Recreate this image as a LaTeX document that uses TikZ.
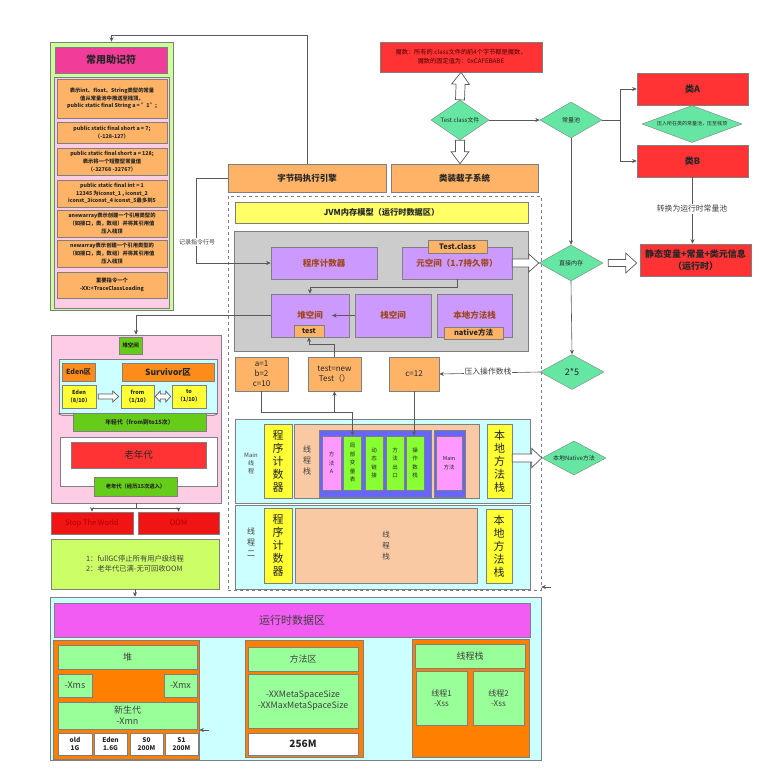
\documentclass[tikz,border=0pt]{standalone}
\usepackage{fontspec}
\setmainfont{Noto Sans CJK SC}
\usetikzlibrary{shapes.geometric,arrows.meta,calc,decorations.pathreplacing}

\definecolor{lineGray}{HTML}{7F7F7F}
\definecolor{txtDark}{HTML}{262626}
\definecolor{txtGray}{HTML}{404040}
\definecolor{orangeBox}{HTML}{FFB366}
\definecolor{orangeDeep}{HTML}{FF8000}
\definecolor{orangeZone}{HTML}{FF8C1A}
\definecolor{redBox}{HTML}{FF3333}
\definecolor{stwRed}{HTML}{F01414}
\definecolor{stwTxt}{HTML}{B00000}
\definecolor{magicTxt}{HTML}{4D0000}
\definecolor{mint}{HTML}{66E6A3}
\definecolor{purpleBox}{HTML}{CC99FF}
\definecolor{purpleTxt}{HTML}{A0461E}
\definecolor{grayFill}{HTML}{CCCCCC}
\definecolor{yellowPale}{HTML}{FFFF66}
\definecolor{yellowBox}{HTML}{FFFF33}
\definecolor{cyanFill}{HTML}{CCFFFF}
\definecolor{tanFill}{HTML}{F9C9A3}
\definecolor{frameBlue}{HTML}{6666FF}
\definecolor{pinkSlot}{HTML}{FF99FF}
\definecolor{greenSlot}{HTML}{88FF33}
\definecolor{greenLbl}{HTML}{66CC1A}
\definecolor{greenPale}{HTML}{99FF99}
\definecolor{magentaBar}{HTML}{F25CF2}
\definecolor{pinkTitle}{HTML}{F23C9A}
\definecolor{pinkPanel}{HTML}{FFCCE6}
\definecolor{greenPanel}{HTML}{CCFF99}
\definecolor{infoGreen}{HTML}{CCFF66}

\newcommand\fsz[2]{\fontsize{#1}{#2}\selectfont}

% hollow block arrow: from, to, shaft half width, head half width, head length
\newcommand\fatarrow[5]{%
  \draw[fat] let \p1=(#1), \p2=(#2),
    \n1={atan2(\y2-\y1,\x2-\x1)}, \n2={veclen(\x2-\x1,\y2-\y1)-#5} in
    ($(\p1)+(\n1+90:#3pt)$) -- ($(\p1)+(\n1:\n2)+(\n1+90:#3pt)$)
    -- ($(\p1)+(\n1:\n2)+(\n1+90:#4pt)$) -- (\p2)
    -- ($(\p1)+(\n1:\n2)+(\n1-90:#4pt)$) -- ($(\p1)+(\n1:\n2)+(\n1-90:#3pt)$)
    -- ($(\p1)+(\n1-90:#3pt)$) -- cycle;}
\newcommand\fatdarrow[5]{%
  \draw[fat] let \p1=(#1), \p2=(#2),
    \n1={atan2(\y2-\y1,\x2-\x1)}, \n2={veclen(\x2-\x1,\y2-\y1)-#5} in
    (\p1) -- ($(\p1)+(\n1:#5pt)+(\n1+90:#4pt)$) -- ($(\p1)+(\n1:#5pt)+(\n1+90:#3pt)$)
    -- ($(\p1)+(\n1:\n2)+(\n1+90:#3pt)$) -- ($(\p1)+(\n1:\n2)+(\n1+90:#4pt)$) -- (\p2)
    -- ($(\p1)+(\n1:\n2)+(\n1-90:#4pt)$) -- ($(\p1)+(\n1:\n2)+(\n1-90:#3pt)$)
    -- ($(\p1)+(\n1:#5pt)+(\n1-90:#3pt)$) -- ($(\p1)+(\n1:#5pt)+(\n1-90:#4pt)$) -- cycle;}

\begin{document}
\begin{tikzpicture}[
  x=1pt,
  y=-1pt,
  box/.style={draw=lineGray, line width=0.6pt, inner sep=0pt, align=center, text=txtDark},
  memo/.style={box, fill=orangeBox, minimum width=110, font=\fsz{5.3}{7.6}\bfseries},
  purp/.style={box, fill=purpleBox, text=purpleTxt, font=\fsz{8.5}{10}\bfseries},
  tag/.style={box, fill=orangeBox, font=\fsz{7.5}{9}\bfseries},
  slot/.style={box, fill=greenSlot, minimum width=18, minimum height=54, font=\fsz{5.5}{8.5}},
  vert/.style={box, fill=yellowBox, font=\fsz{11}{13}},
  gbox/.style={box, fill=greenPale, text=txtGray},
  conn/.style={draw=lineGray!70!black, line width=0.6pt},
  arr/.style={conn, -{Stealth[length=4.5pt,width=4pt]}},
  dia/.style={diamond, draw=lineGray, fill=mint, inner sep=0pt, align=center, text=txtDark},
  fat/.style={draw=lineGray!70!black, fill=white, line width=0.7pt},
  lbl/.style={fill=white, inner sep=1pt, text=txtGray}
]
\useasboundingbox (0,0) rectangle (772,774);

% mnemonic column
\node[box, fill=greenPanel, minimum width=123, minimum height=268] (mnem) at (111.5,176) {};
\node[box, fill=pinkTitle, minimum width=112, minimum height=26, font=\fsz{10}{12}\bfseries] (mnemTitle) at (111,60) {常用助记符};
\node[box, fill=pinkPanel, minimum width=115, minimum height=231] (mnemList) at (112,192.5) {};
\node[memo, minimum height=39] (m1) at (112,98.5) {表示int、float、String类型的常量\\值从常量池中推送至栈顶。\\public static final String a = "1";};
\node[memo, minimum height=21] (m2) at (112,132.5) {public static final short a = 7;\\（-128-127）};
\node[memo, minimum height=27] (m3) at (112,161.5) {public static final short a = 128;\\表示将一个短整型常量值\\（-32768 -32767）};
\node[memo, minimum height=27] (m4) at (112,193.5) {public static final int = 1\\12345 为iconst\_1 , iconst\_2\\iconst\_3iconst\_4 iconst\_5最多到5};
\node[memo, minimum height=27] (m5) at (112,223.5) {anewarray表示创建一个引用类型的\\（如接口，类，数组）并将其引用值\\压入栈顶};
\node[memo, minimum height=27] (m6) at (112,253.5) {newarray表示创建一个引用类型的\\（如接口，类，数组）并将其引用值\\压入栈顶};
\node[memo, minimum height=26] (m7) at (112,285) {重要指令一个\\-XX:+TraceClassLoading};

% class file and loader
\node[box, fill=redBox, text=magicTxt, minimum width=162, minimum height=30, font=\fsz{6.2}{9}] (magic) at (461,57) {魔数：所有的.class文件的前4个字节都是魔数，\\魔数的固定值为：0xCAFEBABE};
\node[dia, minimum width=58, minimum height=40, aspect=1.45, font=\fsz{6}{7}] (tc) at (460,120) {Test.class文件};
\node[box, fill=orangeBox, minimum width=158, minimum height=28, font=\fsz{8.5}{10}\bfseries] (engine) at (307,178) {字节码执行引擎};
\node[box, fill=orangeBox, minimum width=147, minimum height=28, font=\fsz{8.5}{10}\bfseries] (loader) at (464.5,178) {类装载子系统};
\node[dia, minimum width=62, minimum height=36, aspect=1.7, font=\fsz{6}{7}] (cpool) at (571,120) {常量池};
\node[box, fill=redBox, minimum width=111, minimum height=32, font=\fsz{9}{11}\bfseries] (classA) at (692.5,89) {类A};
\node[dia, minimum width=100, minimum height=37, aspect=2.7, font=\fsz{5}{6}] (pushPool) at (692,124) {压入所在类的常量池，压至栈顶};
\node[box, fill=redBox, minimum width=111, minimum height=32, font=\fsz{9}{11}\bfseries] (classB) at (692.5,161) {类B};
\node[box, fill=redBox, minimum width=111, minimum height=32, font=\fsz{9}{11.5}\bfseries] (statBox) at (695.5,260) {静态变量+常量+类元信息\\（运行时）};
\node[dia, minimum width=64, minimum height=36, aspect=1.8, font=\fsz{6}{7}] (direct) at (571,263) {直接内存};
\node[dia, minimum width=64, minimum height=35, aspect=1.8, font=\fsz{9}{10}] (twofive) at (572,372) {2*5};
\node[dia, minimum width=64, minimum height=34, aspect=1.9, font=\fsz{6}{7}] (native) at (574,458) {本地Native方法};

% JVM memory model
\node[draw=lineGray, dashed, line width=0.6pt, minimum width=313, minimum height=394] (jvm) at (384.5,393) {};
\node[box, fill=yellowPale, minimum width=293, minimum height=21, font=\fsz{8.2}{10}\bfseries] (jvmTitle) at (381.5,212.5) {JVM内存模型（运行时数据区）};
\node[box, fill=grayFill, minimum width=294, minimum height=120] (area) at (381,291) {};
\node[purp, minimum width=106, minimum height=32] (pc) at (324,263) {程序计数器};
\node[purp, minimum width=110, minimum height=32] (meta) at (457,263) {元空间（1.7持久带）};
\node[tag, minimum width=59, minimum height=13] (tcTag) at (457.5,246.5) {Test.class};
\node[purp, minimum width=78, minimum height=43] (heapSp) at (310,315.5) {堆空间};
\node[tag, minimum width=30, minimum height=12, font=\fsz{7}{8}\bfseries] (testTag) at (309,331) {test};
\node[purp, minimum width=76, minimum height=43] (stackSp) at (393,315.5) {栈空间};
\node[purp, minimum width=75, minimum height=43] (nativeSp) at (474.5,315.5) {本地方法栈};
\node[tag, minimum width=59, minimum height=12] (nativeTag) at (473.5,333) {native方法};
\node[box, fill=orangeBox, minimum width=53, minimum height=34, font=\fsz{8}{10}] (vars) at (261.5,374) {a=1\\b=2\\c=10};
\node[box, fill=orangeBox, minimum width=53, minimum height=34, font=\fsz{8}{10.5}] (newObj) at (334.5,374) {test=new\\Test（）};
\node[box, fill=orangeBox, minimum width=50, minimum height=34, font=\fsz{8}{10}] (c12) at (414,374) {c=12};

% main thread
\node[box, fill=cyanFill, minimum width=295, minimum height=84] (t1) at (382.5,461) {};
\node[text=txtGray, align=center, font=\fsz{6}{8}] (t1Name) at (251,463) {Main\\线\\程};
\node[vert, minimum width=28, minimum height=74] (t1pc) at (278,461) {程\\序\\计\\数\\器};
\node[box, fill=tanFill, minimum width=185, minimum height=74] (t1stack) at (386.5,461) {};
\node[text=txtGray, align=center, font=\fsz{8}{11}] (t1stackName) at (307,460) {线\\程\\栈};
\node[box, fill=frameBlue, minimum width=112, minimum height=67] (frameA) at (375,463.5) {};
\node[slot, fill=pinkSlot, minimum width=19] (mA) at (331.5,463) {方\\法\\A};
\node[slot] (lv) at (352.5,463) {局\\部\\变\\量\\表};
\node[slot] (dl) at (374,463) {动\\态\\链\\接};
\node[slot] (mo) at (395,463) {方\\法\\出\\口};
\node[slot] (os) at (415,463) {操\\作\\数\\栈};
\node[box, fill=frameBlue, minimum width=31, minimum height=67] (frameMain) at (449.5,463.5) {};
\node[slot, fill=pinkSlot, minimum width=26] (mMain) at (449,463) {Main\\方法};
\node[vert, minimum width=25, minimum height=74] (t1native) at (499.5,461) {本\\地\\方\\法\\栈};

% second thread
\node[box, fill=cyanFill, minimum width=295, minimum height=84] (t2) at (382.5,547) {};
\node[text=txtGray, align=center, font=\fsz{8}{11}] (t2Name) at (251,542) {线\\程\\二};
\node[vert, minimum width=28, minimum height=75] (t2pc) at (278,545.5) {程\\序\\计\\数\\器};
\node[box, fill=tanFill, minimum width=182, minimum height=75, text=txtGray, font=\fsz{7.5}{11}] (t2stack) at (386,545.5) {线\\程\\栈};
\node[vert, minimum width=26, minimum height=74] (t2native) at (499,546) {本\\地\\方\\法\\栈};

% heap layout
\node[box, fill=pinkPanel, minimum width=170, minimum height=168] (hp) at (136,419) {};
\node[box, fill=greenLbl, minimum width=23, minimum height=17, font=\fsz{5.5}{7}\bfseries] (hpTag) at (130.5,345.5) {堆空间};
\node[box, fill=cyanFill, minimum width=158, minimum height=54] (young) at (138,386) {};
\draw[conn, decorate, decoration={brace, mirror, amplitude=4pt}] (young.south west) -- (young.south east);
\node[box, fill=orangeZone, minimum width=33, minimum height=18, font=\fsz{7}{8}\bfseries] (edenZone) at (78.5,372) {Eden区};
\node[box, fill=orangeZone, minimum width=92, minimum height=18, font=\fsz{8.5}{10}\bfseries] (survZone) at (168,372) {Survivor区};
\node[box, fill=yellowBox, minimum width=34, minimum height=23, font=\fsz{5.5}{8}\bfseries] (eden) at (79,396.5) {Eden\\（8/10）};
\node[box, fill=yellowBox, minimum width=33, minimum height=23, font=\fsz{5.5}{8}\bfseries] (from) at (137.5,396.5) {from\\（1/10）};
\node[box, fill=yellowBox, minimum width=34, minimum height=23, font=\fsz{5.5}{8}\bfseries] (to) at (189,396.5) {to\\（1/10）};
\node[box, fill=greenLbl, minimum width=133, minimum height=18, font=\fsz{5.8}{7}\bfseries] (youngTag) at (139.5,422) {年轻代（from到to15次）};
\node[box, fill=white, minimum width=157, minimum height=49] (oldArea) at (138.5,461.5) {};
\node[box, fill=redBox, minimum width=135, minimum height=26, font=\fsz{9.5}{11}] (old) at (138.5,455) {老年代};
\node[box, fill=greenLbl, minimum width=83, minimum height=19, font=\fsz{5.3}{7}\bfseries] (oldTag) at (135.5,486.5) {老年代（经历15次进入）};
\node[box, fill=stwRed, text=stwTxt, minimum width=82, minimum height=22, font=\fsz{7.5}{9}] (stw) at (92,523) {Stop The World};
\node[box, fill=stwRed, text=stwTxt, minimum width=81, minimum height=22, font=\fsz{7.5}{9}] (oom) at (178.5,523) {OOM};
\node[box, fill=infoGreen, minimum width=168, minimum height=50, align=left, text=txtGray, font=\fsz{7.3}{10}] (info) at (135,564) {1：fullGC停止所有用户级线程\\2：老年代已满-无可回收OOM};

% runtime data area with sizes
\node[box, fill=cyanFill, minimum width=491, minimum height=163] (rt) at (295.5,678.5) {};
\node[box, fill=magentaBar, minimum width=476, minimum height=34, text=txtGray, font=\fsz{11}{13}] (rtTitle) at (292,620) {运行时数据区};
\node[box, fill=orangeDeep, minimum width=146, minimum height=119] (heapBox) at (126,699.5) {};
\node[gbox, minimum width=139, minimum height=24, font=\fsz{9}{11}] (heapHead) at (127.5,657) {堆};
\node[gbox, minimum width=34, minimum height=23, font=\fsz{9}{11}] (xms) at (75,685.5) {-Xms};
\node[gbox, minimum width=33, minimum height=23, font=\fsz{9}{11}] (xmx) at (180.5,685.5) {-Xmx};
\node[gbox, minimum width=139, minimum height=27, font=\fsz{9}{11}] (xmn) at (127.5,715.5) {新生代\\-Xmn};
\node[box, fill=white, minimum width=34, minimum height=22, font=\fsz{6.5}{8.5}\bfseries] (oldSize) at (75,744) {old\\1G};
\node[box, fill=white, minimum width=33, minimum height=22, font=\fsz{6.5}{8.5}\bfseries] (edenSize) at (110.5,744) {Eden\\1.6G};
\node[box, fill=white, minimum width=33, minimum height=22, font=\fsz{6.5}{8.5}\bfseries] (s0Size) at (146.5,744) {S0\\200M};
\node[box, fill=white, minimum width=33, minimum height=22, font=\fsz{6.5}{8.5}\bfseries] (s1Size) at (181.5,744) {S1\\200M};
\node[box, fill=orangeDeep, minimum width=118, minimum height=117] (methBox) at (304,698.5) {};
\node[gbox, minimum width=110, minimum height=24, font=\fsz{9}{11}] (methHead) at (303,659) {方法区};
\node[gbox, minimum width=110, minimum height=54, font=\fsz{8.8}{11}] (methOpts) at (303,701) {-XXMetaSpaceSize\\-XXMaxMetaSpaceSize};
\node[box, fill=white, minimum width=110, minimum height=22, font=\fsz{10}{12}\bfseries] (methSize) at (303,744) {256M};
\node[box, fill=orangeDeep, minimum width=117, minimum height=118] (thrBox) at (470.5,698) {};
\node[gbox, minimum width=110, minimum height=24, font=\fsz{9}{11}] (thrHead) at (470,656) {线程栈};
\node[gbox, minimum width=51, minimum height=54, font=\fsz{8}{10}] (thr1) at (441.5,698) {线程1\\-Xss};
\node[gbox, minimum width=51, minimum height=54, font=\fsz{8}{10}] (thr2) at (498.5,698) {线程2\\-Xss};

% connectors
\coordinate (topRail) at (0,35);
\draw[arr] (engine.north) -- (engine.north |- topRail) -- (mnem.north |- topRail) -- (mnem.north);
\draw[arr] (engine.west) -- ++(-31,0) |- (pc.west);
\node[lbl, font=\fsz{6}{7}] (recLbl) at (197,242) {记录指令行号};
\draw[arr] (tc.east) -- (cpool.west);
\coordinate (fork) at (620,120);
\draw[arr] (cpool.east) -- (fork) |- (classA.west);
\draw[arr] (fork) |- (classB.west);
\draw[arr] (classB.south) -- (classB.south |- statBox.north);
\node[lbl, font=\fsz{7.8}{9}] (convLbl) at (692,209) {转换为运行时常量池};
\draw[arr] (cpool.south) -- (direct.north);
\draw[arr] (direct.south) -- (twofive.north);
\draw[arr] (twofive.west) -- (c12.east);
\node[lbl, font=\fsz{7.8}{9}] (pushLbl) at (488,372) {压入操作数栈};
\draw[arr] (meta.south) -- ++(0,8) -| (heapSp.north);
\coordinate (heapTxt) at (332,315.5);
\draw[arr] (stackSp.west) -- (heapTxt);
\draw[arr] (heapSp.west) -| (hp.north);
\draw[arr] (newObj.north) -- ++(0,-12) -| (testTag.south);
\draw[arr] (vars.south) -- ++(0,21) -| (lv.north);
\coordinate (varRail) at (334.5,412);
\draw[arr] (varRail) -- (newObj.south);
\draw[arr] (c12.south) -- (c12.south |- os.north);
\draw[arr] (hp.south) -- ++(0,5) -| (stw.north);
\draw[arr] (hp.south) -- ++(0,5) -| (oom.north);
\draw[arr] (info.south) -- (info.south |- rt.north);
\coordinate (jvmStub) at (551,587);
\draw[arr] (jvmStub) -- (jvm.east |- jvmStub);
\coordinate (heapStub) at (209,730);
\draw[arr] (heapStub) -- (heapBox.east |- heapStub);

% block arrows
\fatarrow{tc.north}{magic.south}{4.5}{9}{12}
\fatarrow{tc.south}{tc.south |- loader.north}{4.5}{9}{12}
\fatarrow{meta.east}{direct.west}{4}{9}{10}
\fatarrow{$(direct.east)+(5,0)$}{$(direct.east -| statBox.west)+(-3,0)$}{3.5}{10}{11}
\fatarrow{t1native.east |- native.west}{native.west}{4}{9.5}{10}
\fatarrow{$(eden.east)+(2,0)$}{$(from.west)+(-2,0)$}{2.5}{5.5}{6}
\fatdarrow{$(from.east)+(1,0)$}{$(to.west)+(-1,0)$}{2.5}{5.5}{5}
\end{tikzpicture}
\end{document}
